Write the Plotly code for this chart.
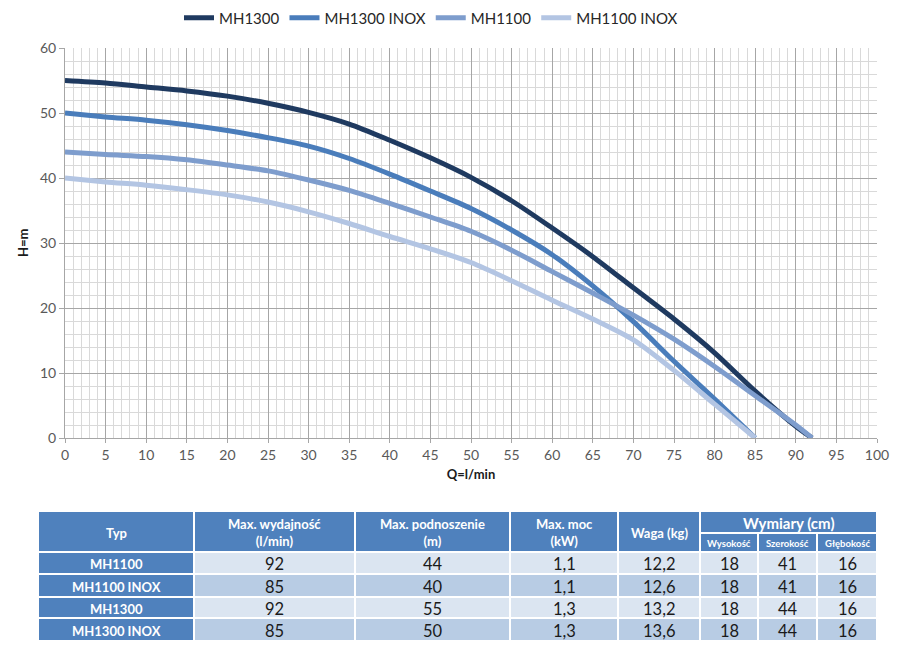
import plotly.graph_objects as go

# ---------------- data ----------------
q_long = [0, 5, 10, 15, 20, 25, 30, 35, 40, 45, 50, 55, 60, 65, 70, 75, 80, 85, 90, 92]
q_short = [0, 5, 10, 15, 20, 25, 30, 35, 40, 45, 50, 55, 60, 65, 70, 75, 80, 85]

h_mh1300 = [55, 54.6, 54.0, 53.4, 52.6, 51.5, 50.1, 48.3, 45.8, 43.1, 40.1, 36.5, 32.3, 27.9, 23.1, 18.3, 13.1, 7.2, 1.8, 0]
h_mh1300_inox = [50, 49.4, 48.9, 48.2, 47.3, 46.2, 44.9, 43.0, 40.6, 38.0, 35.3, 32.0, 28.2, 23.4, 17.9, 11.8, 6.0, 0]
h_mh1100 = [44, 43.6, 43.3, 42.8, 42.0, 41.1, 39.7, 38.1, 36.1, 34.0, 31.8, 28.9, 25.6, 22.3, 18.9, 15.2, 11.0, 6.5, 2.0, 0]
h_mh1100_inox = [40, 39.4, 38.9, 38.2, 37.4, 36.3, 34.8, 33.0, 31.0, 29.1, 27.0, 24.2, 21.2, 18.3, 15.1, 10.4, 5.2, 0]

series_names = ["MH1300", "MH1300 INOX", "MH1100", "MH1100 INOX"]

x_ticks = list(range(0, 101, 5))
y_ticks = list(range(0, 61, 10))

# table data
table_types = ["MH1100", "MH1100 INOX", "MH1300", "MH1300 INOX"]
max_flow = ["92", "85", "92", "85"]
max_head = ["44", "40", "55", "50"]
max_power = ["1,1", "1,1", "1,3", "1,3"]
weight = ["12,2", "12,6", "13,2", "13,6"]
dim_height = ["18", "18", "18", "18"]
dim_width = ["41", "41", "44", "44"]
dim_depth = ["16", "16", "16", "16"]

header_main = ["Typ", "Max. wydajność<br>(l/min)", "Max. podnoszenie<br>(m)", "Max. moc<br>(kW)", "Waga (kg)"]
header_group = "Wymiary (cm)"
header_sub = ["Wysokość", "Szerokość", "Głębokość"]

# ---------------- styles / layout ----------------
FONT = "Lato"
colors = ["#1f3a60", "#4a7dbb", "#7e9dcd", "#b3c5e3"]
OFF = 8                       # page body margin of the browser
W, H = 900 - OFF, 663 - OFF
ML, MR, MT, MB = 38 - OFF, 23, 48 - OFF, 22
plot_w = W - ML - MR
plot_h = H - MT - MB

def px_to_dom_x(px):
    return (px - OFF - ML) / plot_w

def py_to_dom_y(py):
    return (H - MB - (py - OFF)) / plot_h

# chart area in page pixels
chart_left, chart_right, chart_top, chart_bottom = 65, 877, 48, 438
# table geometry (page pixel units in a helper axis)
col_edges = [38, 194, 355, 510, 618, 700, 758, 817, 877]
row_edges = [511, 533, 552, 574, 597, 618, 641]

fig = go.Figure()

data_sets = [(q_long, h_mh1300), (q_short, h_mh1300_inox), (q_long, h_mh1100), (q_short, h_mh1100_inox)]
for name, (xs, ys), c in zip(series_names, data_sets, colors):
    fig.add_trace(go.Scatter(
        x=xs, y=ys, name=name, mode="lines",
        line=dict(color=c, width=5, shape="spline", smoothing=0.8),
        xaxis="x", yaxis="y", hoverinfo="x+y+name",
    ))

# invisible trace to anchor the table axis
fig.add_trace(go.Scatter(x=[col_edges[0], col_edges[-1]], y=[row_edges[0], row_edges[-1]],
                         mode="markers", marker=dict(opacity=0), xaxis="x2", yaxis="y2",
                         showlegend=False, hoverinfo="skip"))

shapes = []
annotations = []
HDR = "#4f81bd"
LIGHT = "#dbe5f1"
MID = "#b8cce4"
WHITE_LINE = dict(color="white", width=2)

def cell(x0, x1, y0, y1, fill):
    shapes.append(dict(type="rect", xref="x2", yref="y2", x0=x0, x1=x1, y0=y0, y1=y1,
                       fillcolor=fill, line=WHITE_LINE, layer="above"))

def text(xc, yc, t, size, color, bold=False):
    annotations.append(dict(xref="x2", yref="y2", x=xc, y=yc, text=("<b>%s</b>" % t) if bold else t,
                            showarrow=False, font=dict(family=FONT, size=size, color=color),
                            xanchor="center", yanchor="middle"))

# header cells
for i, t in enumerate(header_main):
    x0, x1 = col_edges[i], col_edges[i + 1]
    cell(x0, x1, row_edges[0], row_edges[2], HDR)
    text((x0 + x1) / 2, (row_edges[0] + row_edges[2]) / 2 + 1, t, 13, "white", True)
# group header
gx0, gx1 = col_edges[5], col_edges[8]
cell(gx0, gx1, row_edges[0], row_edges[1], HDR)
text((gx0 + gx1) / 2, (row_edges[0] + row_edges[1]) / 2 + 1, header_group, 15, "white", True)
for j, t in enumerate(header_sub):
    x0, x1 = col_edges[5 + j], col_edges[6 + j]
    cell(x0, x1, row_edges[1], row_edges[2], HDR)
    text((x0 + x1) / 2, (row_edges[1] + row_edges[2]) / 2 + 1, t, 9.5, "white", True)

columns = [max_flow, max_head, max_power, weight, dim_height, dim_width, dim_depth]
for r, typ in enumerate(table_types):
    y0, y1 = row_edges[2 + r], row_edges[3 + r]
    yc = (y0 + y1) / 2 + 1
    cell(col_edges[0], col_edges[1], y0, y1, HDR)
    text((col_edges[0] + col_edges[1]) / 2, yc, typ, 13, "white", True)
    fill = LIGHT if r % 2 == 0 else MID
    for c, col in enumerate(columns):
        x0, x1 = col_edges[1 + c], col_edges[2 + c]
        cell(x0, x1, y0, y1, fill)
        text((x0 + x1) / 2, yc, col[r], 16.5, "#1a1a1a")

# axis title for y as annotation
annotations.append(dict(xref="paper", yref="paper", x=px_to_dom_x(23), y=py_to_dom_y(243),
                        text="<b>H=m</b>", textangle=-90, showarrow=False,
                        font=dict(family=FONT, size=13, color="#1a1a1a"),
                        xanchor="center", yanchor="middle"))

fig.update_layout(
    width=W, height=H,
    margin=dict(l=ML, r=MR, t=MT, b=MB, autoexpand=False),
    paper_bgcolor="white", plot_bgcolor="white",
    font=dict(family=FONT, size=14, color="#595959"),
    showlegend=True,
    legend=dict(orientation="h", x=px_to_dom_x(431), xanchor="center",
                y=py_to_dom_y(18), yanchor="middle",
                font=dict(family=FONT, size=15, color="#262626"),
                itemwidth=30, tracegroupgap=0, bgcolor="rgba(0,0,0,0)"),
    xaxis=dict(domain=[px_to_dom_x(chart_left), px_to_dom_x(chart_right)],
               anchor="y", range=[0, 100], tickvals=x_ticks,
               showgrid=True, gridcolor="#a6a6a6", gridwidth=1.3,
               minor=dict(dtick=1, showgrid=True, gridcolor="#d9d9d9", gridwidth=1),
               showline=True, linecolor="#a6a6a6", linewidth=1,
               ticks="outside", ticklen=4, tickcolor="#a6a6a6",
               zeroline=False, fixedrange=True, automargin=False,
               tickfont=dict(family=FONT, size=14, color="#595959"),
               title=dict(text="<b>Q=l/min</b>", standoff=8,
                          font=dict(family=FONT, size=13, color="#1a1a1a"))),
    yaxis=dict(domain=[py_to_dom_y(chart_bottom), py_to_dom_y(chart_top)],
               anchor="x", range=[0, 60], tickvals=y_ticks,
               showgrid=True, gridcolor="#a6a6a6", gridwidth=1.3,
               minor=dict(dtick=2, showgrid=True, gridcolor="#d9d9d9", gridwidth=1),
               showline=True, linecolor="#a6a6a6", linewidth=1,
               ticks="outside", ticklen=5, tickcolor="#a6a6a6",
               zeroline=False, fixedrange=True, automargin=False,
               tickfont=dict(family=FONT, size=14, color="#595959")),
    xaxis2=dict(domain=[0, 1], anchor="y2", range=[col_edges[0], col_edges[-1]], visible=False,
                fixedrange=True),
    yaxis2=dict(domain=[0, py_to_dom_y(row_edges[0])], anchor="x2",
                range=[row_edges[-1], row_edges[0]], visible=False, fixedrange=True),
    shapes=shapes,
    annotations=annotations,
)

fig.write_html("out.html")
